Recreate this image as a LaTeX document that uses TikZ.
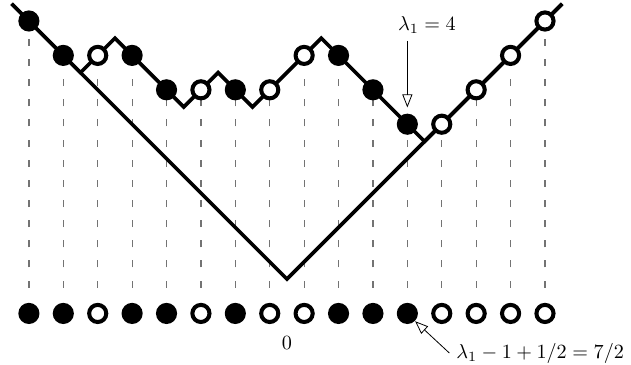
\documentclass[tikz,border=0pt]{standalone}
\usepackage{amsmath}
\usepackage{tikz}
\usetikzlibrary{arrows.meta, backgrounds}

\begin{document}
\begin{tikzpicture}[
  x=0.6cm, y=0.6cm,
  full/.style={circle, fill=black, minimum size=10.5pt, inner sep=0pt},
  empty/.style={circle, draw, line width=2pt, fill=white, minimum size=8.5pt,
                inner sep=0pt},
  profile/.style={line width=1.8pt},
  guide/.style={black!55, line width=0.6pt, dash pattern=on 3.5pt off 6.5pt},
  arrow/.style={-{Triangle[open, length=6.5pt, width=5pt]}, thin}
]
\useasboundingbox (-8.34,-2.47) rectangle (10,8.11);

% Maya diagram: top row on the profile, bottom row on the line
\foreach \i/\t/\h in {1/full/7.5, 2/full/6.5, 3/empty/6.5, 4/full/6.5,
                      5/full/5.5, 6/empty/5.5, 7/full/5.5, 8/empty/5.5,
                      9/empty/6.5, 10/full/6.5, 11/full/5.5, 12/full/4.5,
                      13/empty/4.5, 14/empty/5.5, 15/empty/6.5, 16/empty/7.5}
{
  \node[\t] (t\i) at (\i-8.5, \h) {};
  \node[\t] (b\i) at (\i-8.5, -1) {};
}

\begin{scope}[on background layer]
  % vertical guides
  \foreach \i in {1,...,16}
    \draw[guide] ([yshift=0.45cm]b\i.center) -- (t\i.center);
  % the V
  \draw[profile] (-8,8) -- (0,0) -- (8,8);
  % profile of the partition
  \draw[profile] (-8,8) -- (-6,6) -- (-5,7) -- (-3,5) -- (-2,6) -- (-1,5)
    -- (1,7) -- (4,4) -- (8,8);
\end{scope}

% Labels
\node (zero) at (0,-1.85) {$0$};
\node (lam) at (4.07,7.38) {$\lambda_1 = 4$};
\draw[arrow] (lam.south -| t12) -- ([yshift=0.1cm]t12.north);

\node[anchor=west] (shift) at (4.72,-2.15) {$\lambda_1 - 1 + 1/2 = 7/2$};
\draw[arrow] (shift.west) -- (b12.south east);

\end{tikzpicture}
\end{document}
